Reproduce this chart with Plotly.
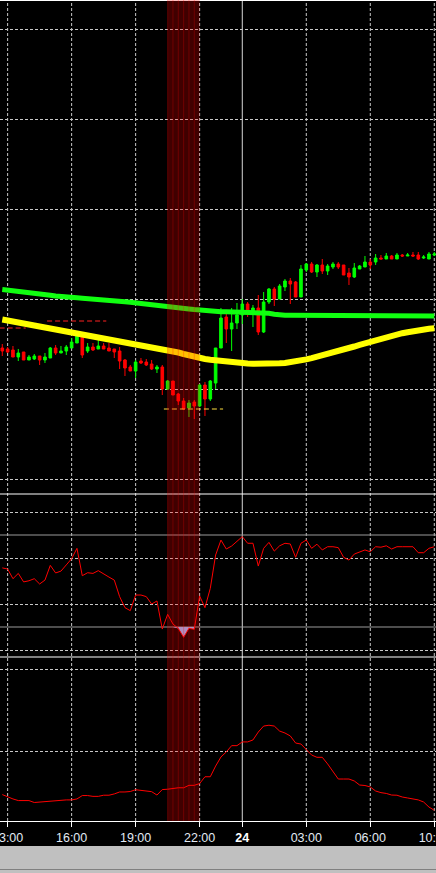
import plotly.graph_objects as go

# ---------------- data ----------------
idx = list(range(82))  # 15-minute candles, index 1 = 13:00

open_ = [1.12152, 1.12151, 1.12150, 1.12143, 1.12148, 1.12140, 1.12141, 1.12144, 1.12140, 1.12142,
         1.12152, 1.12147, 1.12149, 1.12152, 1.12157, 1.12165, 1.12149, 1.12153, 1.12151, 1.12154,
         1.12152, 1.12151, 1.12149, 1.12140, 1.12133, 1.12129, 1.12139, 1.12138, 1.12136, 1.12131,
         1.12133, 1.12111, 1.12119, 1.12106, 1.12099, 1.12092, 1.12098, 1.12094, 1.12115, 1.12101,
         1.12117, 1.12152, 1.12183, 1.12171, 1.12177, 1.12185, 1.12196, 1.12187, 1.12192, 1.12168,
         1.12198, 1.12211, 1.12201, 1.12213, 1.12219, 1.12218, 1.12203, 1.12230, 1.12236, 1.12228,
         1.12235, 1.12229, 1.12233, 1.12236, 1.12235, 1.12227, 1.12223, 1.12231, 1.12233, 1.12238,
         1.12238, 1.12242, 1.12241, 1.12244, 1.12241, 1.12245, 1.12244, 1.12245, 1.12245, 1.12242,
         1.12241, 1.12245]
high_ = [1.12156, 1.12153, 1.12154, 1.12151, 1.12148, 1.12145, 1.12146, 1.12144, 1.12147, 1.12153,
         1.12155, 1.12154, 1.12155, 1.12162, 1.12165, 1.12165, 1.12157, 1.12157, 1.12161, 1.12157,
         1.12157, 1.12151, 1.12153, 1.12141, 1.12135, 1.12140, 1.12142, 1.12141, 1.12140, 1.12135,
         1.12135, 1.12120, 1.12119, 1.12107, 1.12102, 1.12100, 1.12100, 1.12116, 1.12118, 1.12120,
         1.12152, 1.12192, 1.12187, 1.12192, 1.12197, 1.12201, 1.12198, 1.12195, 1.12205, 1.12208,
         1.12212, 1.12213, 1.12216, 1.12221, 1.12222, 1.12219, 1.12235, 1.12237, 1.12238, 1.12236,
         1.12241, 1.12236, 1.12238, 1.12238, 1.12235, 1.12232, 1.12237, 1.12235, 1.12244, 1.12241,
         1.12246, 1.12245, 1.12247, 1.12245, 1.12247, 1.12246, 1.12247, 1.12248, 1.12248, 1.12245,
         1.12248, 1.12248]
low_ = [1.12144, 1.12147, 1.12143, 1.12139, 1.12140, 1.12140, 1.12140, 1.12135, 1.12137, 1.12142,
        1.12145, 1.12147, 1.12145, 1.12152, 1.12157, 1.12142, 1.12147, 1.12149, 1.12151, 1.12151,
        1.12149, 1.12142, 1.12131, 1.12124, 1.12129, 1.12122, 1.12136, 1.12134, 1.12130, 1.12127,
        1.12105, 1.12110, 1.12105, 1.12095, 1.12090, 1.12083, 1.12081, 1.12093, 1.12084, 1.12099,
        1.12111, 1.12152, 1.12157, 1.12149, 1.12171, 1.12176, 1.12183, 1.12173, 1.12165, 1.12167,
        1.12196, 1.12194, 1.12201, 1.12209, 1.12196, 1.12203, 1.12203, 1.12228, 1.12227, 1.12223,
        1.12226, 1.12225, 1.12231, 1.12231, 1.12225, 1.12215, 1.12222, 1.12231, 1.12233, 1.12231,
        1.12235, 1.12241, 1.12241, 1.12241, 1.12241, 1.12243, 1.12244, 1.12243, 1.12240, 1.12241,
        1.12241, 1.12244]
close_ = [1.12149, 1.12148, 1.12143, 1.12147, 1.12140, 1.12143, 1.12144, 1.12140, 1.12143, 1.12152,
          1.12147, 1.12149, 1.12153, 1.12158, 1.12165, 1.12145, 1.12153, 1.12150, 1.12154, 1.12151,
          1.12149, 1.12148, 1.12139, 1.12132, 1.12129, 1.12138, 1.12137, 1.12135, 1.12131, 1.12133,
          1.12111, 1.12119, 1.12105, 1.12099, 1.12091, 1.12097, 1.12094, 1.12115, 1.12101, 1.12119,
          1.12152, 1.12182, 1.12171, 1.12177, 1.12185, 1.12196, 1.12187, 1.12192, 1.12168, 1.12198,
          1.12211, 1.12201, 1.12214, 1.12219, 1.12216, 1.12203, 1.12231, 1.12236, 1.12228, 1.12235,
          1.12229, 1.12234, 1.12236, 1.12233, 1.12225, 1.12223, 1.12232, 1.12234, 1.12238, 1.12235,
          1.12242, 1.12241, 1.12244, 1.12241, 1.12245, 1.12244, 1.12245, 1.12244, 1.12241, 1.12243,
          1.12246, 1.12246]

ma_slow = [1.122105, 1.122100, 1.122094, 1.122088, 1.122082, 1.122077, 1.122071, 1.122063, 1.122055, 1.122048,
           1.122040, 1.122033, 1.122028, 1.122025, 1.122022, 1.122018, 1.122015, 1.122011, 1.122008, 1.122004,
           1.121998, 1.121993, 1.121988, 1.121982, 1.121977, 1.121972, 1.121966, 1.121961, 1.121956, 1.121950,
           1.121945, 1.121940, 1.121932, 1.121925, 1.121918, 1.121910, 1.121904, 1.121898, 1.121893, 1.121888,
           1.121884, 1.121883, 1.121882, 1.121881, 1.121880, 1.121877, 1.121874, 1.121871, 1.121869, 1.121867,
           1.121867, 1.121857, 1.121847, 1.121847, 1.121847, 1.121847, 1.121847, 1.121847, 1.121847, 1.121847,
           1.121847, 1.121847, 1.121847, 1.121847, 1.121847, 1.121847, 1.121847, 1.121847, 1.121847, 1.121847,
           1.121847, 1.121847, 1.121845, 1.121840, 1.121840, 1.121840, 1.121840, 1.121840, 1.121840, 1.121840,
           1.121840, 1.121840]
ma_fast = [1.121805, 1.121795, 1.121782, 1.121773, 1.121764, 1.121754, 1.121745, 1.121733, 1.121722, 1.121712,
           1.121702, 1.121692, 1.121681, 1.121672, 1.121663, 1.121654, 1.121644, 1.121635, 1.121626, 1.121616,
           1.121604, 1.121594, 1.121583, 1.121572, 1.121562, 1.121553, 1.121545, 1.121537, 1.121529, 1.121522,
           1.121514, 1.121506, 1.121491, 1.121475, 1.121460, 1.121445, 1.121430, 1.121420, 1.121410, 1.121402,
           1.121395, 1.121388, 1.121383, 1.121378, 1.121374, 1.121370, 1.121366, 1.121363, 1.121361, 1.121360,
           1.121360, 1.121363, 1.121367, 1.121371, 1.121377, 1.121385, 1.121395, 1.121406, 1.121418, 1.121431,
           1.121445, 1.121460, 1.121473, 1.121488, 1.121503, 1.121519, 1.121535, 1.121551, 1.121567, 1.121582,
           1.121596, 1.121610, 1.121625, 1.121642, 1.121655, 1.121668, 1.121678, 1.121689, 1.121697, 1.121705,
           1.121712, 1.121717]

# dashed price levels: (price, start index, end index, colour)
level_price = [1.12179, 1.12172, 1.12091]
level_start = [8.4, -0.5, 30.3]
level_end = [19.5, 4.4, 41.4]
level_color = ["#ff2020", "#ff2020", "#ffe040"]

rsi = [55.7, 55.2, 51.0, 53.3, 49.6, 50.1, 51.0, 48.7, 50.4, 56.8,
       53.5, 54.3, 57.0, 59.7, 64.2, 52.3, 53.6, 53.3, 54.5, 53.0,
       51.7, 50.4, 43.2, 38.4, 37.1, 43.9, 43.9, 43.2, 40.0, 41.3,
       29.1, 35.5, 31.3, 29.4, 25.5, 29.4, 29.0, 43.5, 38.4, 46.8,
       61.3, 67.8, 63.9, 65.2, 67.4, 69.3, 66.4, 66.4, 56.5, 64.2,
       66.8, 63.0, 65.3, 66.4, 66.1, 60.3, 66.4, 67.8, 64.2, 66.0,
       63.5, 64.9, 64.9, 64.5, 60.3, 59.1, 61.7, 62.7, 63.5, 62.7,
       64.9, 64.7, 65.3, 63.9, 64.9, 64.9, 64.9, 64.9, 62.3, 62.3,
       64.2, 64.9]
rsi_levels = [30, 70]

atr = [2.31, 2.16, 2.04, 1.94, 1.94, 1.94, 1.82, 1.85, 1.85, 1.91,
       1.93, 1.93, 1.98, 1.98, 2.04, 2.25, 2.25, 2.20, 2.20, 2.27,
       2.27, 2.35, 2.47, 2.47, 2.50, 2.61, 2.57, 2.57, 2.49, 2.28,
       2.62, 2.64, 2.69, 2.73, 2.73, 2.88, 2.88, 2.99, 3.41, 3.41,
       4.07, 4.63, 4.94, 5.33, 5.33, 5.56, 5.56, 5.68, 6.17, 6.54,
       6.59, 6.54, 6.23, 6.11, 5.93, 5.49, 5.43, 5.06, 4.75, 4.61,
       4.61, 4.20, 3.70, 3.27, 3.27, 3.27, 3.15, 2.90, 2.87, 2.78,
       2.53, 2.43, 2.38, 2.28, 2.27, 2.16, 2.10, 2.04, 1.98, 1.85,
       1.54, 1.34]

tick_idx = [1, 13, 25, 37, 45, 57, 69, 81]
tick_text = ["13:00", "16:00", "19:00", "22:00",
             '<span style="color:#ffffff"><b>24</b></span>', "03:00", "06:00", "10:00"]
day_sep_idx = 45
band_start, band_end = 31, 37

main_grid = [1.12471, 1.12381, 1.12291, 1.12201, 1.12111, 1.12021]
rsi_grid = [20, 40, 60, 80]
atr_grid = [5, 10]

# ---------------- figure ----------------
W, H = 436, 873
BOTTOM = 52
plot_h = H - BOTTOM  # 821


def py(ypix):
    return (plot_h - ypix) / plot_h


d_main = [py(494), 1.0]
d_rsi = [py(657), py(494)]
d_atr = [0.0, py(657)]

fig = go.Figure()

fig.add_trace(go.Scatter(x=idx, y=ma_slow, mode="lines",
                         line=dict(color="#10ff10", width=5), hoverinfo="skip",
                         xaxis="x", yaxis="y"))
fig.add_trace(go.Scatter(x=idx, y=ma_fast, mode="lines",
                         line=dict(color="#ffff00", width=6), hoverinfo="skip",
                         xaxis="x", yaxis="y"))

for p, s, e, c in zip(level_price, level_start, level_end, level_color):
    fig.add_trace(go.Scatter(x=[s, e], y=[p, p], mode="lines",
                             line=dict(color=c, width=1, dash="5px,3px"),
                             hoverinfo="skip", xaxis="x", yaxis="y"))

fig.add_trace(go.Candlestick(
    x=idx, open=open_, high=high_, low=low_, close=close_,
    increasing=dict(line=dict(color="#00ff00", width=1), fillcolor="#00ff00"),
    decreasing=dict(line=dict(color="#ff0000", width=1), fillcolor="#ff0000"),
    whiskerwidth=0, hoverinfo="skip", xaxis="x", yaxis="y"))

# RSI panel: lavender fill below the 30 level
fill_x = [i for i in idx if band_start + 1 <= i <= band_end - 1]
fill_y = [min(rsi[i], rsi_levels[0]) for i in fill_x]
fig.add_trace(go.Scatter(x=fill_x, y=[rsi_levels[0]] * len(fill_x), mode="lines",
                         line=dict(width=0, color="rgba(0,0,0,0)"), hoverinfo="skip",
                         xaxis="x2", yaxis="y2"))
fig.add_trace(go.Scatter(x=fill_x, y=fill_y, mode="lines", fill="tonexty",
                         fillcolor="rgb(150,190,255)", line=dict(width=0, color="rgba(0,0,0,0)"),
                         hoverinfo="skip", xaxis="x2", yaxis="y2"))
fig.add_trace(go.Scatter(x=idx, y=rsi, mode="lines",
                         line=dict(color="#ff0000", width=1), hoverinfo="skip",
                         xaxis="x2", yaxis="y2"))

fig.add_trace(go.Scatter(x=idx, y=atr, mode="lines",
                         line=dict(color="#ff0000", width=1), hoverinfo="skip",
                         xaxis="x3", yaxis="y3"))

grid_col = "#c8c8c8"
dash = "3px,2px"
xr = [-0.43, 81.32]

shapes = []
# vertical dotted grid and day separator
for t in tick_idx:
    if t == day_sep_idx:
        shapes.append(dict(type="line", xref="x", yref="paper", x0=t, x1=t, y0=0, y1=1,
                           line=dict(color="#d8d8d8", width=1), layer="below"))
    else:
        shapes.append(dict(type="line", xref="x", yref="paper", x0=t, x1=t, y0=0, y1=1,
                           line=dict(color=grid_col, width=1, dash=dash), layer="below"))
# RSI levels
for lv in rsi_levels:
    shapes.append(dict(type="line", xref="paper", yref="y2", x0=0, x1=1, y0=lv, y1=lv,
                       line=dict(color="#9a9a9a", width=1), layer="below"))
# panel separators and top border
for yy in [py(494), py(657)]:
    shapes.append(dict(type="line", xref="paper", yref="paper", x0=0, x1=1, y0=yy, y1=yy,
                       line=dict(color="#ffffff", width=1), layer="above"))
shapes.append(dict(type="line", xref="paper", yref="paper", x0=0, x1=1, y0=1, y1=1,
                   line=dict(color="#ffffff", width=2), layer="above"))
# highlighted red band with stripes
shapes.append(dict(type="rect", xref="x", yref="paper", x0=band_start, x1=band_end, y0=0, y1=1,
                   fillcolor="rgba(255,0,0,0.25)", line=dict(width=0), layer="above"))
for i in range(band_start, band_end):
    shapes.append(dict(type="line", xref="x", yref="paper", x0=i, x1=i, y0=0, y1=1,
                       line=dict(color="rgba(255,0,0,0.25)", width=1), layer="above"))
# bottom scrollbar-like grey strip
shapes.append(dict(type="rect", xref="paper", yref="paper", x0=0, x1=1,
                   y0=py(873), y1=py(846), fillcolor="#c0c0c0", line=dict(width=0), layer="above"))
shapes.append(dict(type="line", xref="paper", yref="paper", x0=0, x1=1,
                   y0=py(869.5), y1=py(869.5), line=dict(color="#808080", width=1), layer="above"))

hidden_x = dict(range=xr, showticklabels=False, showgrid=False, zeroline=False,
                showline=False, ticks="", fixedrange=True, automargin=False)

fig.update_layout(
    width=W, height=H, autosize=False,
    margin=dict(l=0, r=0, t=0, b=BOTTOM, pad=0, autoexpand=False),
    paper_bgcolor="#000000", plot_bgcolor="#000000",
    showlegend=False,
    hovermode=False,
    font=dict(family="Liberation Sans, Arial, sans-serif", color="#e2eaf4", size=12.5),
    xaxis=dict(domain=[0, 1], anchor="y", rangeslider=dict(visible=False), **hidden_x),
    xaxis2=dict(domain=[0, 1], anchor="y2", matches="x", **hidden_x),
    xaxis3=dict(domain=[0, 1], anchor="y3", matches="x", range=xr, automargin=False,
                tickmode="array", tickvals=tick_idx, ticktext=tick_text,
                ticks="outside", ticklen=5, tickcolor="#ffffff", tickwidth=1,
                ticklabeloverflow="allow",
                showline=True, linecolor="#ffffff", linewidth=1,
                showgrid=False, zeroline=False, fixedrange=True,
                tickfont=dict(family="Liberation Sans, Arial, sans-serif", size=12.5, color="#e2eaf4")),
    yaxis=dict(domain=d_main, anchor="x", range=[1.12006, 1.12500], automargin=False,
               tickmode="array", tickvals=main_grid, showticklabels=False,
               showgrid=True, gridcolor=grid_col, gridwidth=1, griddash=dash,
               zeroline=False, fixedrange=True),
    yaxis2=dict(domain=d_rsi, anchor="x2", range=[16.957, 87.826], automargin=False,
                tickmode="array", tickvals=rsi_grid, showticklabels=False,
                showgrid=True, gridcolor=grid_col, gridwidth=1, griddash=dash,
                zeroline=False, fixedrange=True),
    yaxis3=dict(domain=d_atr, anchor="x3", range=[0.679, 10.802], automargin=False,
                tickmode="array", tickvals=atr_grid, showticklabels=False,
                showgrid=True, gridcolor=grid_col, gridwidth=1, griddash=dash,
                zeroline=False, fixedrange=True),
    shapes=shapes,
)

post = ("document.documentElement.style.overflow='hidden';"
        "document.documentElement.style.margin='0';"
        "document.body.style.margin='0';document.body.style.padding='0';"
        "document.body.style.overflow='hidden';document.body.style.background='#000';")

fig.write_html("out.html", config={"displayModeBar": False, "responsive": False},
               post_script=post)
